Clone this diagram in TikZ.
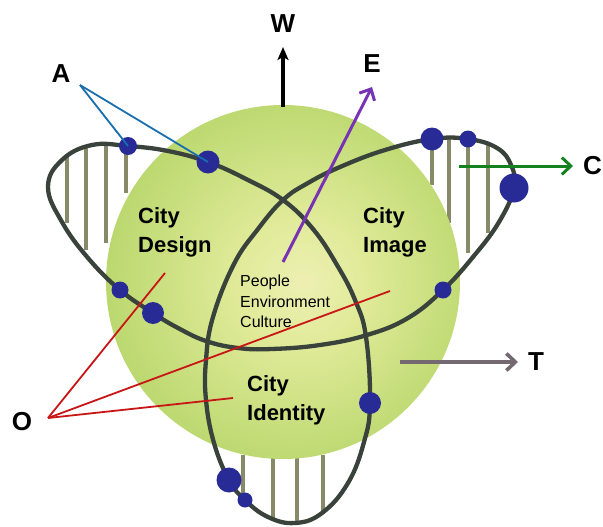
\documentclass[tikz,border=0pt]{standalone}
\usepackage{fontspec}
\setmainfont{Liberation Sans}
\usetikzlibrary{arrows.meta}
\definecolor{curvecol}{RGB}{58,66,60}
\definecolor{hatchcol}{RGB}{135,138,105}
\definecolor{dotcol}{RGB}{40,42,150}
\definecolor{alinecol}{RGB}{25,110,175}
\definecolor{olinecol}{RGB}{200,22,22}
\definecolor{ecol}{RGB}{120,50,180}
\definecolor{ccol}{RGB}{20,130,30}
\definecolor{tcol}{RGB}{115,105,110}
\pgfdeclareradialshading{globe}{\pgfpoint{3bp}{0bp}}{rgb(0bp)=(0.93,0.94,0.70); rgb(9bp)=(0.88,0.92,0.60); rgb(28bp)=(0.72,0.84,0.42); rgb(50bp)=(0.58,0.77,0.30)}
\begin{document}
\begin{tikzpicture}[x=1pt,y=-1pt,
  knot/.style={draw=curvecol, line width=4.3pt, line join=round},
  hatch/.style={draw=hatchcol, line width=3.3pt},
  blob/.style={fill=dotcol},
  lbl/.style={font=\fontsize{26}{30}\selectfont\bfseries, inner sep=0pt, anchor=base},
  city/.style={font=\fontsize{22}{29}\selectfont\bfseries, align=left, inner sep=0pt, anchor=north west},
  core/.style={font=\fontsize{16}{20.5}\selectfont, align=left, inner sep=0pt, anchor=north west},
  barb/.style={-{Straight Barb[length=9pt,width=17pt]}},
  pointer/.style={line width=1.8pt}
]
\useasboundingbox (0,0) rectangle (603,527);
\clip (0,0) rectangle (603,527);

% hatching (behind the globe)
\foreach \x/\a/\b in {67/156/223, 86/147/250, 106/145/243, 126/146/193,
                     432/139/185, 449/137/223, 468/139/253, 488/143/233,
                     243/455/496, 273/455/519, 297/455/523, 323/455/514}
  \draw[hatch] (\x,\a) -- (\x,\b);

% globe
\coordinate (g) at (283,282);
\shade[shading=globe] (g) circle[radius=177pt];

% trefoil curve
\draw[knot] plot[smooth cycle, tension=0.7] coordinates {
 (48,187) (62,160) (92,145) (128,146) (168,151) (208,162) (246,179) (283,200)
 (313,229) (337,265) (355,300) (366,337) (370,403) (364,442) (348,483) (322,513)
 (295,523) (268,517) (245,500) (229,480) (214,443) (206,400) (206,360) (213,317)
 (234,264) (258,229) (283,200) (308,183) (340,167) (385,150) (432,139) (468,139)
 (497,148) (511,165) (514,188) (499,222) (473,257) (443,290) (408,318)
 (367,335) (320,345) (272,349) (238,348) (206,341) (178,328) (153,313) (120,290) (88,258)
 (62,222)};

% dots
\coordinate (d1) at (128,146);
\coordinate (d2) at (208,162);
\coordinate (d3) at (432,139);
\coordinate (d4) at (468,139);
\coordinate (d5) at (514,188);
\coordinate (d6) at (443,290);
\coordinate (d7) at (370,403);
\coordinate (d8) at (229,480);
\coordinate (d9) at (245,500);
\coordinate (d10) at (153,313);
\coordinate (d11) at (120,290);
\foreach \n/\r in {d1/9, d2/11.5, d3/11.5, d4/8.5, d5/14.5, d6/8.5, d7/11, d8/12.5, d9/7.5, d10/11, d11/8.5}
  \fill[blob] (\n) circle[radius=\r pt];

% text inside
\node[city] (design) at (138,207) {City\\Design};
\node[city] (image) at (363,207) {City\\Image};
\node[city] (identity) at (247,375) {City\\Identity};
\node[core] (core) at (240,275) {People\\Environment\\Culture};

% outer labels
\node[lbl] (W) at (283,33) {W};
\node[lbl] (A) at (61,83) {A};
\node[lbl] (E) at (372,73) {E};
\node[lbl] (O) at (22,430) {O};
\node[lbl] (T) at (536,370) {T};
\node[lbl, anchor=base east] (C) at (602,175) {C};

% A pointers
\coordinate (a0) at (80,85);
\draw[pointer, alinecol] (a0) -- (d1);
\draw[pointer, alinecol] (a0) -- (d2);

% O pointers
\coordinate (o0) at (48,418);
\coordinate (o1) at (165,273);
\coordinate (o2) at (390,291);
\coordinate (o3) at (233,398);
\draw[pointer, olinecol] (o0) -- (o1);
\draw[pointer, olinecol] (o0) -- (o2);
\draw[pointer, olinecol] (o0) -- (o3);

% arrows
\coordinate (w0) at (283,107);
\coordinate (w1) at (283,47);
\draw[line width=3.2pt, -{Stealth[length=13pt,width=11pt,inset=3pt]}] (w0) -- (w1);
\coordinate (e0) at (283,262);
\coordinate (e1) at (372,87);
\draw[barb, ecol, line width=3pt] (e0) -- (e1);
\coordinate (c0) at (459,166);
\coordinate (c1) at (573,166);
\draw[barb, ccol, line width=3pt] (c0) -- (c1);
\coordinate (t0) at (400,362);
\coordinate (t1) at (518,362);
\draw[barb, tcol, line width=3.6pt] (t0) -- (t1);
\end{tikzpicture}
\end{document}
